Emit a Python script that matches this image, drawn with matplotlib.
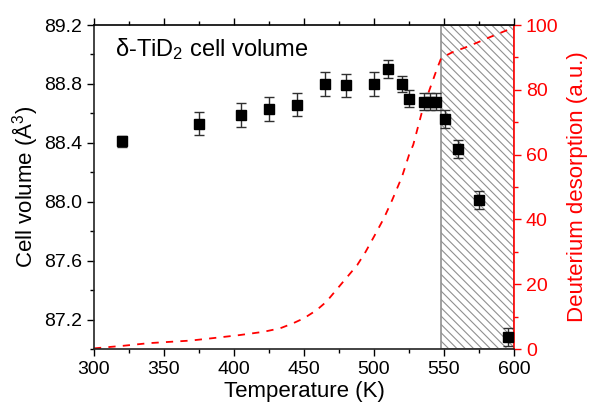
import matplotlib
matplotlib.use("Agg")
import matplotlib.pyplot as plt
from matplotlib.ticker import MultipleLocator, FormatStrFormatter

plt.rcParams['font.family'] = ['Liberation Sans', 'DejaVu Sans']
plt.rcParams['mathtext.fontset'] = 'custom'
plt.rcParams['mathtext.rm'] = 'Liberation Sans'
plt.rcParams['mathtext.it'] = 'Liberation Sans'
plt.rcParams['hatch.color'] = '#808080'
plt.rcParams['hatch.linewidth'] = 0.8

# cell volume data
temp_k = [320, 375, 405, 425, 445, 465, 480, 500, 510, 520, 525, 536, 540, 544, 551, 560, 575, 596]
volume = [88.41, 88.53, 88.59, 88.63, 88.66, 88.80, 88.79, 88.80, 88.90, 88.80, 88.70,
          88.68, 88.68, 88.68, 88.56, 88.36, 88.01, 87.08]
volume_err = [0.035, 0.08, 0.08, 0.08, 0.08, 0.08, 0.08, 0.08, 0.06, 0.057, 0.06,
              0.058, 0.058, 0.058, 0.06, 0.06, 0.06, 0.06]

# deuterium desorption curve
des_temp = [300, 321, 339, 350, 369, 388, 404, 421, 433, 442, 450, 459, 466, 473, 480,
            488, 494, 500, 507, 513, 520, 525, 528, 535, 545, 548, 556, 566, 575, 583, 595, 600]
des_val = [0.2, 1.0, 1.8, 2.1, 2.6, 3.5, 4.3, 5.3, 6.4, 7.9, 9.5, 12.0, 14.6, 18.2, 21.8,
           25.9, 30.0, 34.7, 40.3, 46.0, 53.2, 59.9, 63.0, 74.4, 86.5, 89.8, 91.6, 93.2, 94.8, 96.3, 98.4, 99.2]

hatch_range = (547.5, 600)

fig = plt.figure(figsize=(5.89, 4.12), dpi=100)
ax = fig.add_axes([0.1596, 0.1529, 0.7131, 0.7864])
ax2 = ax.twinx()

ax.set_zorder(2)
ax.patch.set_visible(False)

# shaded desorption region + dashed curve on the right axis
ax2.axvspan(hatch_range[0], hatch_range[1], facecolor='none', edgecolor='#909090',
            hatch='\\\\\\\\', linewidth=1.2, zorder=0)
ax2.plot(des_temp, des_val, color='red', linestyle=(0, (4, 4)), linewidth=1.3)
ax2.set_ylim(0, 100)
ax2.yaxis.set_major_locator(MultipleLocator(20))
ax2.yaxis.set_minor_locator(MultipleLocator(10))
ax2.tick_params(axis='y', which='both', colors='red', labelsize=14, direction='out')
ax2.tick_params(axis='y', which='major', length=5, width=1)
ax2.tick_params(axis='y', which='minor', length=3, width=1)
ax2.spines['right'].set_color('red')
ax2.spines['right'].set_linewidth(1.2)
ax2.set_ylabel('Deuterium desorption (a.u.)', color='red', fontsize=16, labelpad=6)

ax.errorbar(temp_k, volume, yerr=volume_err, fmt='s', color='black', markersize=6.5,
            ecolor='#303030', elinewidth=1, capsize=3.5, capthick=1)
ax.set_xlim(300, 600)
ax.set_ylim(87.0, 89.2)
ax.xaxis.set_major_locator(MultipleLocator(50))
ax.xaxis.set_minor_locator(MultipleLocator(25))
ax.yaxis.set_major_locator(MultipleLocator(0.4))
ax.yaxis.set_minor_locator(MultipleLocator(0.2))
ax.yaxis.set_major_formatter(FormatStrFormatter('%.1f'))
ax.tick_params(axis='both', which='both', direction='out', labelsize=14, width=1)
ax.tick_params(axis='both', which='major', length=5)
ax.tick_params(axis='both', which='minor', length=3)
ax.tick_params(axis='x', which='both', top=True, labeltop=False)
for sp in ['left', 'bottom', 'top']:
    ax.spines[sp].set_linewidth(1.2)
ax.spines['left'].set_color('#222222')
ax.spines['bottom'].set_color('#222222')
ax.spines['right'].set_visible(False)
ax2.spines['left'].set_visible(False)
ax2.spines['top'].set_visible(False)
ax2.spines['bottom'].set_visible(False)

ax.set_xlabel('Temperature (K)', fontsize=16, labelpad=2)
ax.set_ylabel('Cell volume (Å$^3$)', fontsize=16, labelpad=3)

ax.text(0.05, 0.925, 'δ-TiD$_2$ cell volume', transform=ax.transAxes,
        fontsize=17, va='center', ha='left')

fig.savefig('out.png', dpi=100)
